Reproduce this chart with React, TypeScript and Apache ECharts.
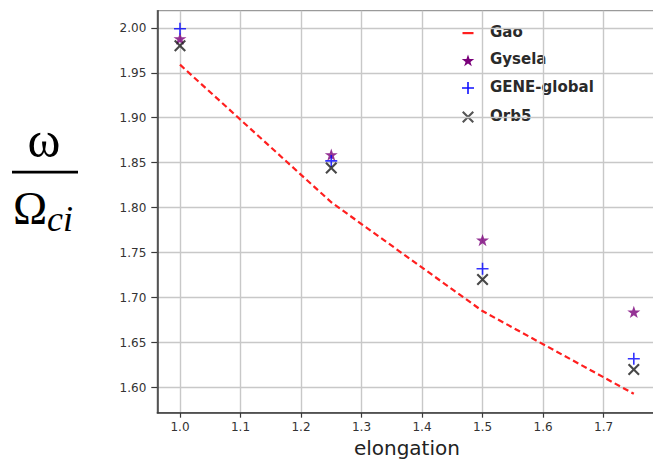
import React, { useEffect, useRef } from "react";
import * as echarts from "echarts";

// ---- data ----
const elongation = [1.0, 1.25, 1.5, 1.75];
const gao = [1.959, 1.806, 1.685, 1.593];
const gysela = [1.988, 1.859, 1.764, 1.684];
const geneGlobal = [1.999, 1.852, 1.732, 1.632];
const orb5 = [1.98, 1.844, 1.72, 1.62];
const seriesNames = ["Gao", "Gysela", "GENE-global", "Orb5"];
const xTickValues = [1.0, 1.1, 1.2, 1.3, 1.4, 1.5, 1.6, 1.7];
const yTickValues = [1.6, 1.65, 1.7, 1.75, 1.8, 1.85, 1.9, 1.95, 2.0];

// ---- marker shapes ----
const STAR: number[][] = [
  [50, 0], [61.8, 35.1], [98.1, 35.1], [68.8, 56.8], [79.4, 91],
  [50, 70], [20.6, 91], [31.2, 56.8], [1.9, 35.1], [38.2, 35.1],
];
const PLUS: number[][] = [
  [5.2, 0], [6.8, 0], [6.8, 5.2], [12, 5.2], [12, 6.8], [6.8, 6.8],
  [6.8, 12], [5.2, 12], [5.2, 6.8], [0, 6.8], [0, 5.2], [5.2, 5.2],
];
const CROSS: number[][] = [
  [0, 1.5], [1.5, 0], [6, 4.5], [10.5, 0], [12, 1.5], [7.5, 6],
  [12, 10.5], [10.5, 12], [6, 7.5], [1.5, 12], [0, 10.5], [4.5, 6],
];
const toPath = (pts: number[][]) =>
  "path://M" + pts.map((p) => p.join(",")).join("L") + "Z";
const place = (pts: number[][], box: number, cx: number, cy: number, s: number) =>
  pts.map(([x, y]) => [cx + (x / box - 0.5) * s, cy + (y / box - 0.5) * s]);

const pairs = (ys: number[]) => elongation.map((x, i) => [x, ys[i]]);

export default function App() {
  const ref = useRef<HTMLDivElement>(null);
  useEffect(() => {
    if (!ref.current) return;
    const chart = echarts.init(ref.current, undefined, { renderer: "svg" });
    const tickFont = "DejaVu Sans";
    const legendX = 468;
    const legendRows = [33, 60, 88, 117];
    const legendText = (i: number) => ({
      type: "text",
      left: 490,
      top: legendRows[i] - 9,
      style: {
        text: seriesNames[i],
        fontSize: 15,
        fontWeight: "bold",
        fontFamily: tickFont,
        fill: "#2a2a2a",
      },
    });
    chart.setOption({
      animation: false,
      backgroundColor: "#ffffff",
      grid: {
        show: true,
        borderColor: "#9a9a9a",
        borderWidth: 1.3,
        left: 157.3,
        top: 10.7,
        right: -3.5,
        bottom: 46.3,
        containLabel: false,
        outerBoundsMode: "none",
      },
      xAxis: {
        type: "value",
        min: 0.9625,
        max: 1.7875,
        splitNumber: 8,
        name: "elongation",
        nameLocation: "middle",
        nameGap: 25,
        nameTextStyle: { fontSize: 20, lineHeight: 20, fontFamily: tickFont, color: "#222" },
        axisLine: { show: true, onZero: false, lineStyle: { color: "#3a3a3a", width: 1.5 } },
        axisTick: { show: true, length: 5, lineStyle: { color: "#3a3a3a", width: 1.2 }, customValues: xTickValues },
        axisLabel: {
          customValues: xTickValues,
          formatter: (v: number) => v.toFixed(1),
          fontSize: 12,
          fontFamily: tickFont,
          color: "#333",
          margin: 8,
        },
        splitLine: { show: true, lineStyle: { color: "#c8c8c8", width: 1.4 } },
      },
      yAxis: {
        type: "value",
        min: 1.572,
        max: 2.019,
        splitNumber: 9,
        axisLine: { show: true, onZero: false, lineStyle: { color: "#3a3a3a", width: 1.5 } },
        axisTick: { show: true, length: 6, lineStyle: { color: "#3a3a3a", width: 1.2 }, customValues: yTickValues },
        axisLabel: {
          customValues: yTickValues,
          formatter: (v: number) => v.toFixed(2),
          fontSize: 12,
          fontFamily: tickFont,
          color: "#333",
          margin: 11,
        },
        splitLine: { show: true, lineStyle: { color: "#c8c8c8", width: 1.4 } },
      },
      series: [
        {
          name: seriesNames[0],
          type: "line",
          data: pairs(gao),
          symbol: "none",
          lineStyle: { color: "#ff1f1f", width: 2.2, type: [6, 3.5] },
          itemStyle: { color: "#ff1f1f" },
          z: 2,
        },
        {
          name: seriesNames[1],
          type: "scatter",
          data: pairs(gysela),
          symbol: toPath(STAR),
          symbolSize: 13,
          symbolKeepAspect: true,
          itemStyle: { color: "#7a007a" },
          z: 3,
        },
        {
          name: seriesNames[2],
          type: "scatter",
          data: pairs(geneGlobal),
          symbol: toPath(PLUS),
          symbolSize: 12,
          itemStyle: { color: "#0000ff" },
          z: 4,
        },
        {
          name: seriesNames[3],
          type: "scatter",
          data: pairs(orb5),
          symbol: toPath(CROSS),
          symbolSize: 12,
          itemStyle: { color: "#1a1a1a" },
          z: 5,
        },
      ],
      graphic: [
        // legend
        { type: "rect", shape: { x: legendX - 5.5, y: legendRows[0] - 1, width: 11, height: 2.2 }, style: { fill: "#ff1f1f" } },
        { type: "polygon", shape: { points: place(STAR, 100, legendX, legendRows[1] + 1, 13) }, style: { fill: "#7a007a" } },
        { type: "polygon", shape: { points: place(PLUS, 12, legendX, legendRows[2], 12) }, style: { fill: "#1010ff" } },
        { type: "polygon", shape: { points: place(CROSS, 12, legendX, legendRows[3], 12) }, style: { fill: "#555555" } },
        legendText(0),
        legendText(1),
        legendText(2),
        legendText(3),
        // y-axis label: omega / Omega_ci
        {
          type: "text",
          x: 44,
          y: 140,
          style: { text: "ω", fontSize: 50, fontFamily: "Liberation Serif", fill: "#000", align: "center", verticalAlign: "middle" },
        },
        { type: "rect", shape: { x: 12, y: 170.8, width: 66, height: 2.6 }, style: { fill: "#000" } },
        {
          type: "text",
          x: 13,
          y: 208,
          style: { text: "Ω", fontSize: 46, fontFamily: "Liberation Serif", fill: "#000", align: "left", verticalAlign: "middle" },
        },
        {
          type: "text",
          x: 47,
          y: 219,
          style: { text: "ci", fontSize: 36, fontStyle: "italic", fontFamily: "Liberation Serif", fill: "#000", align: "left", verticalAlign: "middle" },
        },
      ],
    });
    return () => chart.dispose();
  }, []);
  return (
    <div
      ref={ref}
      style={{ position: "absolute", left: 0, top: 0, width: 653, height: 459 }}
    />
  );
}
